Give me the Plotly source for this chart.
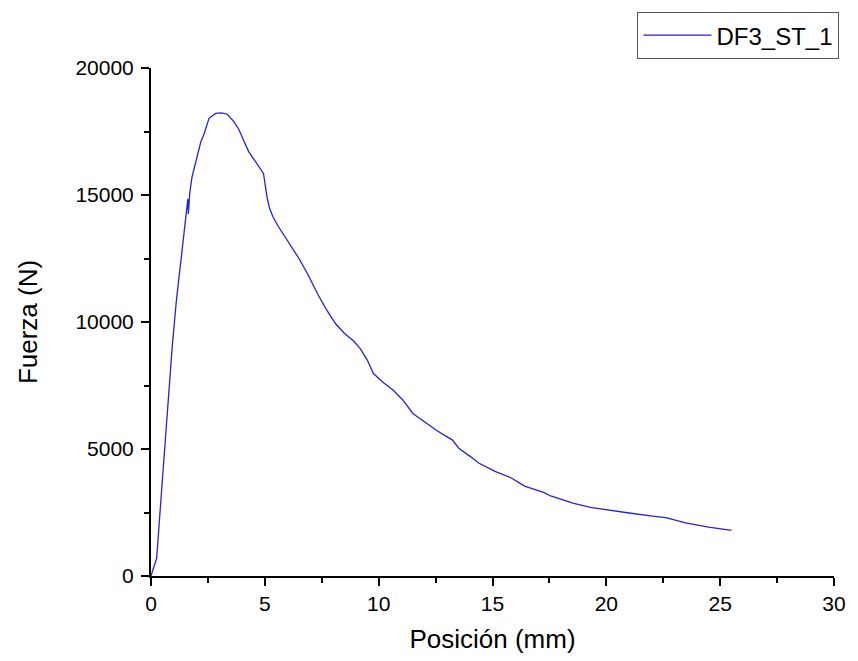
import plotly.graph_objects as go

# Position (mm) and force (N)
posicion = [0.0, 0.05, 0.25, 0.46, 0.6, 0.75, 0.93, 1.11, 1.33, 1.54, 1.6, 1.62, 1.64,
            1.7, 1.8, 1.97, 2.19, 2.33, 2.55, 2.84, 3.1, 3.35, 3.64, 3.85, 4.0, 4.07, 4.29,
            4.6, 4.94, 5.0, 5.1, 5.2, 5.35, 5.6, 5.87, 6.16, 6.5, 6.88, 7.32, 7.7, 8.11,
            8.5, 8.9, 9.19, 9.5, 9.77, 10.2, 10.63, 11.06, 11.5, 12.08, 12.6, 13.23, 13.52,
            14.0, 14.39, 15.11, 15.83, 16.41, 17.27, 17.56, 18.57, 19.3, 20.16, 21.0,
            22.03, 22.61, 23.48, 24.49, 25.5]
fuerza = [0, 150, 700, 3300, 5000, 6900, 9000, 10800, 12540, 14100, 14500, 14850, 14250,
          15050, 15700, 16350, 17100, 17400, 18020, 18210, 18230, 18180, 17890, 17600,
          17240, 17150, 16710, 16300, 15850, 15500, 14900, 14500, 14150, 13750, 13390,
          13000, 12500, 11890, 11100, 10500, 9930, 9550, 9250, 8950, 8500, 7970, 7620,
          7320, 6930, 6400, 6020, 5700, 5360, 5030, 4720, 4450, 4120, 3860, 3540, 3280,
          3150, 2860, 2700, 2580, 2480, 2360, 2300, 2090, 1920, 1800]

serie = "DF3_ST_1"
x_ticks = [0, 5, 10, 15, 20, 25, 30]
y_ticks = [0, 5000, 10000, 15000, 20000]

fig = go.Figure()
fig.add_trace(go.Scatter(x=posicion, y=fuerza, mode="lines", name=serie,
                         line=dict(color="rgb(35,35,215)", width=1.3)))

font_family = "Liberation Sans, Arial, sans-serif"
fig.update_layout(
    width=858, height=661,
    margin=dict(l=151, r=14, t=66, b=84),
    paper_bgcolor="white", plot_bgcolor="white",
    font=dict(family=font_family, color="black"),
    showlegend=True,
    legend=dict(x=1.008, xanchor="right", y=1.11, yanchor="top",
                bordercolor="#555555", borderwidth=1, bgcolor="white",
                font=dict(size=24, family=font_family), itemwidth=68,
                tracegroupgap=0),
    xaxis=dict(range=[0, 30], tickvals=x_ticks, ticktext=[str(v) for v in x_ticks],
               showgrid=False, zeroline=False,
               showline=True, linecolor="black", linewidth=2,
               ticks="outside", ticklen=8, tickwidth=1.5, tickcolor="black",
               tickfont=dict(size=21),
               minor=dict(dtick=2.5, ticks="outside", ticklen=5, tickwidth=1.5, tickcolor="black"),
               title=dict(text="Posición (mm)", font=dict(size=26), standoff=16)),
    yaxis=dict(range=[0, 20000], tickvals=y_ticks, ticktext=[str(v) for v in y_ticks],
               showgrid=False, zeroline=False,
               showline=True, linecolor="black", linewidth=2,
               ticks="outside", ticklen=8, tickwidth=1.5, tickcolor="black",
               tickfont=dict(size=21), ticklabelstandoff=3,
               minor=dict(dtick=2500, ticks="outside", ticklen=5, tickwidth=1.5, tickcolor="black"),
               title=dict(text="Fuerza (N)", font=dict(size=26), standoff=30)),
)

fig.write_html("out.html")
